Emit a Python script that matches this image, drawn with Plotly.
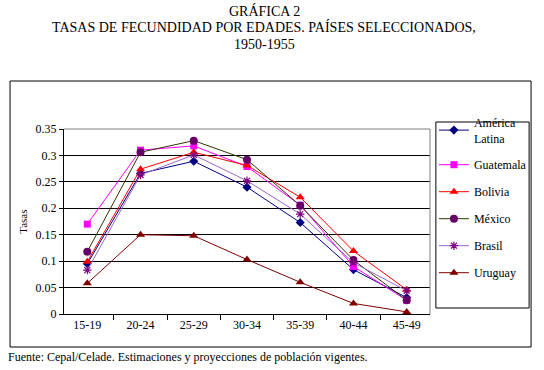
import plotly.graph_objects as go

categories = ["15-19", "20-24", "25-29", "30-34", "35-39", "40-44", "45-49"]
america_latina = [0.095, 0.266, 0.289, 0.240, 0.173, 0.084, 0.031]
guatemala = [0.170, 0.310, 0.318, 0.279, 0.206, 0.090, 0.026]
bolivia = [0.099, 0.274, 0.306, 0.281, 0.221, 0.119, 0.046]
mexico = [0.118, 0.306, 0.328, 0.292, 0.205, 0.102, 0.026]
brasil = [0.083, 0.263, 0.301, 0.252, 0.189, 0.097, 0.044]
uruguay = [0.058, 0.150, 0.148, 0.103, 0.060, 0.020, 0.004]

series = [
    ("América<br>Latina", america_latina, "#000080", "#000080", "diamond", 7),
    ("Guatemala", guatemala, "#FF00FF", "#FF00FF", "square", 7),
    ("Bolivia", bolivia, "#FF0000", "#FF0000", "triangle-up", 8),
    ("México", mexico, "#333300", "#660066", "circle", 8),
    ("Brasil", brasil, "#9966CC", "#800080", "asterisk-open", 7),
    ("Uruguay", uruguay, "#800000", "#800000", "triangle-up", 8),
]

FONT = "Liberation Serif"
fig = go.Figure()
for i, (name, vals, lc, mc, sym, sz) in enumerate(series):
    marker = dict(symbol=sym, size=sz, color=mc)
    if sym == "asterisk-open":
        marker["line"] = dict(color=mc, width=1.2)
    fig.add_trace(go.Scatter(
        x=categories, y=vals, name=name, mode="lines+markers",
        line=dict(color=lc, width=1), marker=marker,
        legendgroup=f"g{i}",
    ))

W, H = 544, 370
L, R, T, B = 64, 437, 129, 314
pw, ph = R - L, B - T

def px(x):
    return (x - L) / pw

def py(y):
    return (B - y) / ph

fig.update_layout(
    width=W, height=H,
    margin=dict(l=L, r=W - R, t=T, b=H - B, pad=0),
    paper_bgcolor="white", plot_bgcolor="white",
    font=dict(family=FONT, size=12, color="black"),
    showlegend=True,
    legend=dict(
        x=px(441), y=py(108), xanchor="left", yanchor="top",
        borderwidth=0, bgcolor="rgba(0,0,0,0)",
        font=dict(family=FONT, size=12, color="black"),
        tracegroupgap=8, itemwidth=30,
    ),
    xaxis=dict(
        type="category", showgrid=False, showline=True, linecolor="black",
        linewidth=1, ticks="outside", tickson="boundaries", ticklen=5,
        tickcolor="black", tickfont=dict(family=FONT, size=12),
    ),
    yaxis=dict(
        range=[0, 0.35], showgrid=True,
        gridcolor="black", gridwidth=1, showline=True, linecolor="black",
        linewidth=1, ticks="outside", ticklen=4, tickcolor="black",
        tickfont=dict(family=FONT, size=12), zeroline=False,
        tickvals=[0, 0.05, 0.1, 0.15, 0.2, 0.25, 0.3, 0.35],
        ticktext=["0", "0.05", "0.1", "0.15", "0.2", "0.25", "0.3", "0.35"],
    ),
    shapes=[
        dict(type="line", xref="paper", yref="paper", x0=0, x1=1, y0=1, y1=1,
             line=dict(color="#808080", width=1)),
        dict(type="line", xref="paper", yref="paper", x0=1, x1=1, y0=0, y1=1,
             line=dict(color="#808080", width=1)),
        dict(type="rect", xref="paper", yref="paper",
             x0=px(9), x1=px(540), y0=py(347), y1=py(81),
             line=dict(color="black", width=1), layer="below"),
        dict(type="rect", xref="paper", yref="paper",
             x0=px(443), x1=px(538), y0=py(308), y1=py(122),
             line=dict(color="black", width=1), layer="below"),
    ],
    annotations=[
        dict(text="GRÁFICA 2", x=px(268), y=py(11), xref="paper", yref="paper",
             xanchor="center", yanchor="middle",
             showarrow=False, font=dict(family=FONT, size=14)),
        dict(text="TASAS DE FECUNDIDAD POR EDADES. PAÍSES SELECCIONADOS,",
             x=px(268), y=py(27), xref="paper", yref="paper",
             xanchor="center", yanchor="middle",
             showarrow=False, font=dict(family=FONT, size=14)),
        dict(text="1950-1955", x=px(268), y=py(44), xref="paper", yref="paper",
             xanchor="center", yanchor="middle",
             showarrow=False, font=dict(family=FONT, size=14)),
        dict(text="Tasas", x=px(22), y=py(222), xref="paper", yref="paper",
             xanchor="center", yanchor="middle",
             showarrow=False, textangle=-90, font=dict(family=FONT, size=11)),
        dict(text="Fuente: Cepal/Celade. Estimaciones y proyecciones de población vigentes.",
             x=px(5), y=py(357), xref="paper", yref="paper", xanchor="left",
             yanchor="middle",
             showarrow=False, font=dict(family=FONT, size=12)),
    ],
)

fig.write_html(
    "out.html",
    config={"displayModeBar": False, "responsive": False},
    post_script=(
        "document.body.style.margin='0px';"
        "document.body.style.overflow='hidden';"
        "document.documentElement.style.overflow='hidden';"
    ),
)
